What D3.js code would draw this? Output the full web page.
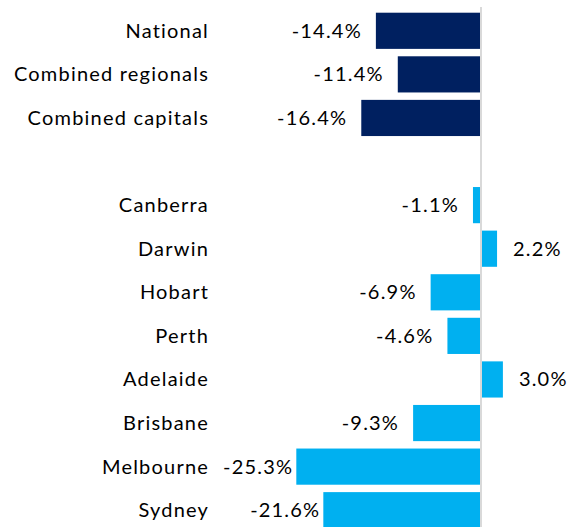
<!DOCTYPE html>
<html>
<head>
<meta charset="utf-8">
<script src="https://cdn.jsdelivr.net/npm/d3@7"></script>
<style>
	body { margin: 0; background: #fff; }
	text { font-family: Lato, "Open Sans", sans-serif; font-size: 20px; letter-spacing: 1.2px; fill: #000; }
</style>
</head>
<body>
<script>
const w = 571,
	h = 527;

// categories top to bottom, '' is the empty spacer row
const categories = ['National', 'Combined regionals', 'Combined capitals', '',
	'Canberra', 'Darwin', 'Hobart', 'Perth', 'Adelaide', 'Brisbane', 'Melbourne', 'Sydney'];
// change in %, null for the spacer
const values = [-14.4, -11.4, -16.4, null, -1.1, 2.2, -6.9, -4.6, 3.0, -9.3, -25.3, -21.6];
// first three rows are the aggregates
const groups = ['agg', 'agg', 'agg', null, 'city', 'city', 'city', 'city', 'city', 'city', 'city', 'city'];

const data = categories.map((c, i) => ({name: c, value: values[i], group: groups[i], key: i}));

const svg = d3.select('body')
	.append('svg')
	.attr('width', w)
	.attr('height', h);

const x = d3.scaleLinear()
	.domain([-26, 12])
	.range([291.2, 568.6]);

const y = d3.scaleBand()
	.domain(data.map((d) => d.key))
	.range([9, 532])
	.paddingInner(0.17)
	.paddingOuter(0.085);

const color = d3.scaleOrdinal()
	.domain(['agg', 'city'])
	.range(['#002060', '#00b0f0']);

const bars = data.filter((d) => d.value !== null);

//bars
svg.selectAll('rect')
	.data(bars)
	.enter()
	.append('rect')
	.attr('x', (d) => x(Math.min(0, d.value)))
	.attr('y', (d) => y(d.key))
	.attr('width', (d) => Math.abs(x(d.value) - x(0)))
	.attr('height', y.bandwidth())
	.attr('fill', (d) => color(d.group));

//zero line
svg.append('line')
	.attr('x1', x(0))
	.attr('x2', x(0))
	.attr('y1', 7)
	.attr('y2', h)
	.attr('stroke', '#d9d9d9')
	.attr('stroke-width', 2);

//category labels
svg.selectAll('text.cat')
	.data(data)
	.enter()
	.append('text')
	.attr('class', 'cat')
	.attr('x', 209)
	.attr('y', (d) => y(d.key) + y.bandwidth() / 2)
	.attr('dy', '0.35em')
	.attr('text-anchor', 'end')
	.text((d) => d.name);

//value labels, the long bars keep their labels tight
const gap = (d) => Math.abs(d.value) > 20 ? 3 : 14;
svg.selectAll('text.val')
	.data(bars)
	.enter()
	.append('text')
	.attr('class', 'val')
	.attr('x', (d) => d.value < 0 ? x(d.value) - gap(d) : x(d.value) + gap(d) + 2)
	.attr('y', (d) => y(d.key) + y.bandwidth() / 2)
	.attr('dy', '0.35em')
	.attr('text-anchor', (d) => d.value < 0 ? 'end' : 'start')
	.text((d) => d.value.toFixed(1) + '%');
</script>
</body>
</html>
